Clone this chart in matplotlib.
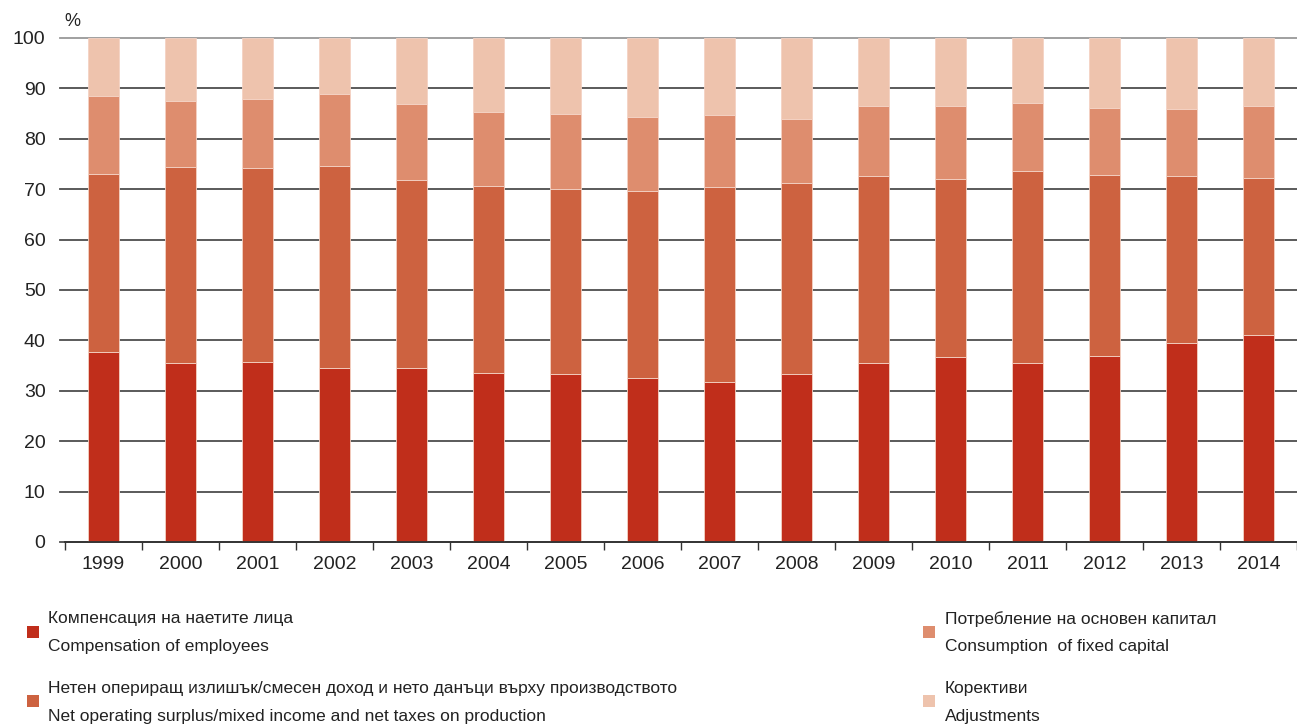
import matplotlib
matplotlib.use("Agg")
import matplotlib.pyplot as plt
from matplotlib.patches import Rectangle
from matplotlib import font_manager

years = ["1999", "2000", "2001", "2002", "2003", "2004", "2005", "2006",
         "2007", "2008", "2009", "2010", "2011", "2012", "2013", "2014"]
compensation = [37.6, 35.6, 35.8, 34.5, 34.5, 33.6, 33.4, 32.6,
                31.8, 33.4, 35.5, 36.8, 35.6, 37.0, 39.5, 41.0]
net_operating = [35.4, 38.9, 38.5, 40.2, 37.4, 37.1, 36.6, 37.1,
                 38.7, 37.9, 37.2, 35.2, 38.1, 35.9, 33.2, 31.3]
fixed_capital = [15.5, 13.0, 13.6, 14.2, 15.0, 14.6, 14.9, 14.6,
                 14.2, 12.7, 13.9, 14.5, 13.5, 13.2, 13.2, 14.3]
adjustments = [11.5, 12.5, 12.1, 11.1, 13.1, 14.7, 15.1, 15.7,
               15.3, 16.0, 13.4, 13.5, 12.8, 13.9, 14.1, 13.4]

series_bg = ["Компенсация на наетите лица",
             "Нетен опериращ излишък/смесен доход и нето данъци върху производството",
             "Потребление на основен капитал",
             "Корективи"]
series_en = ["Compensation of employees",
             "Net operating surplus/mixed income and net taxes on production",
             "Consumption  of fixed capital",
             "Adjustments"]
colors = ["#C02E1B", "#CD6240", "#DE8D6E", "#EEC3AD"]
yticks = [0, 10, 20, 30, 40, 50, 60, 70, 80, 90, 100]

names = {f.name for f in font_manager.fontManager.ttflist}
fam = "Liberation Sans Narrow" if "Liberation Sans Narrow" in names else "Liberation Sans"
plt.rcParams["font.family"] = [fam, "DejaVu Sans"]

fig = plt.figure(figsize=(12.97, 7.27), dpi=100)
ax = fig.add_axes([65 / 1297, 1 - 542 / 727, 1232 / 1297, (542 - 38) / 727])

x = list(range(len(years)))
data = [compensation, net_operating, fixed_capital, adjustments]
bottom = [0.0] * len(years)
for vals, c in zip(data, colors):
    ax.bar(x, vals, width=0.4, bottom=bottom, color=c, edgecolor="#f4d2c4",
           linewidth=0.6, zorder=3)
    bottom = [b + v for b, v in zip(bottom, vals)]

ax.set_xlim(-0.5, len(years) - 0.5)
ax.set_ylim(0, 100)
ax.set_yticks(yticks)
ax.set_yticklabels([str(t) for t in yticks], fontsize=14, color="#222222")
for t in yticks:
    ax.axhline(t, color="#999999" if t == 100 else "#4d4d4d", lw=1.3, zorder=1,
               xmin=-0.004, clip_on=False)
ax.tick_params(axis="y", length=0, pad=14)

ax.set_xticks(x)
ax.set_xticklabels(years, fontsize=14, color="#222222")
ax.set_xticks([i - 0.5 for i in range(len(years) + 1)], minor=True)
ax.tick_params(axis="x", which="major", length=0, pad=10)
ax.tick_params(axis="x", which="minor", length=6, width=1, color="#333333", direction="out")

for s in ["top", "right", "left"]:
    ax.spines[s].set_visible(False)
ax.spines["bottom"].set_color("#333333")
ax.spines["bottom"].set_linewidth(1.3)
ax.spines["bottom"].set_zorder(4)

fig.text(64 / 1297, 1 - 22 / 727, "%", fontsize=13, color="#222222", va="center")

# legend
pos = [(27, 48, 619), (27, 48, 688), (923, 945, 619), (923, 945, 688)]
for (sx, tx, ty), c, bg, en in zip(pos, colors, series_bg, series_en):
    fig.add_artist(Rectangle((sx / 1297, 1 - (ty + 19) / 727), 12 / 1297, 12 / 727,
                             transform=fig.transFigure, facecolor=c, edgecolor="none"))
    fig.text(tx / 1297, 1 - ty / 727, bg, fontsize=12.5, color="#222222", va="center")
    fig.text(tx / 1297, 1 - (ty + 28) / 727, en, fontsize=12.5, color="#222222", va="center")

fig.savefig("out.png", dpi=100)
